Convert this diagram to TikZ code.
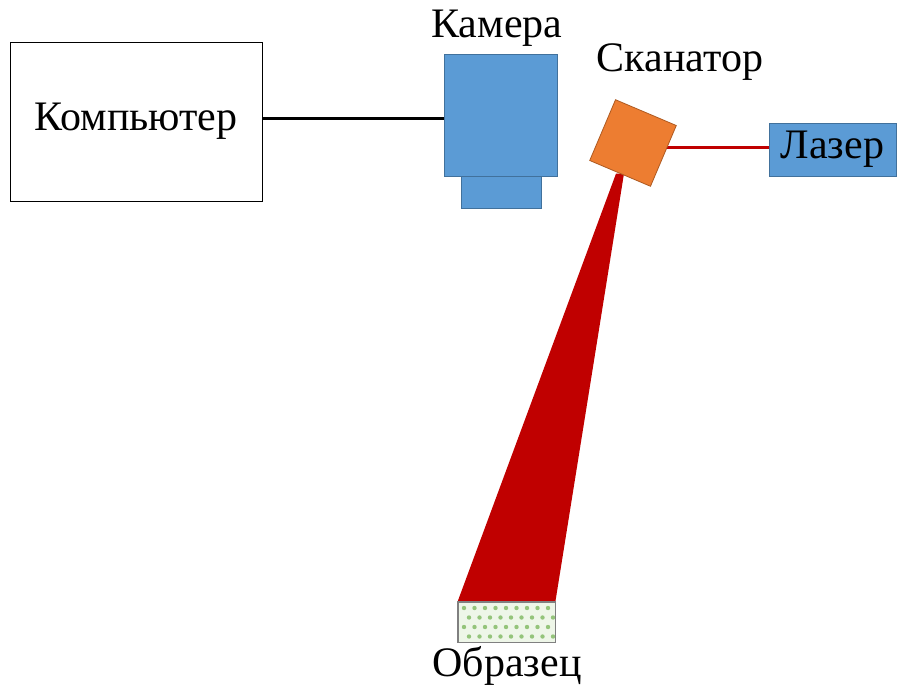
\documentclass[tikz,border=0pt]{standalone}
\usepackage{fontspec}
\setmainfont{LiberationSerif}[Extension=.ttf, UprightFont=*-Regular, BoldFont=*-Bold]
\usetikzlibrary{backgrounds,calc}
\definecolor{camblue}{HTML}{5B9BD5}
\definecolor{camedge}{HTML}{41719C}
\definecolor{scanfill}{HTML}{ED7D31}
\definecolor{scanedge}{HTML}{AE5A21}
\definecolor{beamred}{HTML}{C00000}
\definecolor{samplefill}{HTML}{EEF6E8}
\definecolor{sampledot}{HTML}{94C47A}
\tikzset{
  lbl/.style={font=\rmfamily\fontsize{42}{46}\selectfont, inner sep=0pt},
  whitebox/.style={draw=black, line width=0.8pt, fill=white, inner sep=0pt, lbl},
  bluebox/.style={draw=camedge, line width=0.8pt, fill=camblue, inner sep=0pt},
  scanbox/.style={draw=scanedge, line width=0.8pt, fill=scanfill, inner sep=0pt, minimum size=66pt, rotate=-23},
  samplebox/.style={draw=gray, line width=0.8pt, fill=samplefill, inner sep=0pt},
}
\begin{document}
\begin{tikzpicture}[x=1pt, y=-1pt]
\useasboundingbox (0,0) rectangle (897,693);

% devices
\node[whitebox, minimum width=252pt, minimum height=159pt] (pc) at (136,121.5) {Компьютер};
\node[bluebox, minimum width=80pt, minimum height=32pt] (lens) at (501,192) {};
\node[bluebox, minimum width=113pt, minimum height=122pt] (cam) at (500.5,115) {};
\node[scanbox] (scan) at (633,143) {};
\node[bluebox, lbl, minimum width=127pt, minimum height=53pt] (laser) at (832.5,149.5) {Лазер};
\node[samplebox, minimum width=97pt, minimum height=40pt] (sample) at (506.5,622) {};

% dotted texture of the sample
\begin{scope}
  \clip (sample.south west) rectangle (sample.north east);
  \foreach \r in {0,...,3} {
    \foreach \c in {0,...,9} {
      \pgfmathsetmacro{\xx}{464 + 10.5*\c + mod(\r,2)*5}
      \pgfmathsetmacro{\yy}{608 + 9.5*\r}
      \fill[sampledot] (\xx,\yy) circle (2.2pt);
    }
  }
\end{scope}
\draw[gray, line width=0.8pt] (sample.south west) rectangle (sample.north east);

% labels
\node[lbl] (camlbl) at (497,28) {Камера};
\node[lbl] (scanlbl) at (680,62) {Сканатор};
\node[lbl] (samplbl) at (507,666) {Образец};

% connectors and beam behind the devices
\begin{scope}[on background layer]
  \fill[white] (0,0) rectangle (897,693);
  \draw[line width=3pt] (pc.east |- 0,118) -- (cam.west |- 0,118);
  \draw[beamred, line width=3pt] (scan.center |- 0,147) -- (laser.west |- 0,147);
  \fill[beamred] ($(scan.south)+(-4,0)$) -- ($(scan.south)+(4,0)$)
     -- (sample.north east) -- (sample.north west) -- cycle;
\end{scope}
\end{tikzpicture}
\end{document}
